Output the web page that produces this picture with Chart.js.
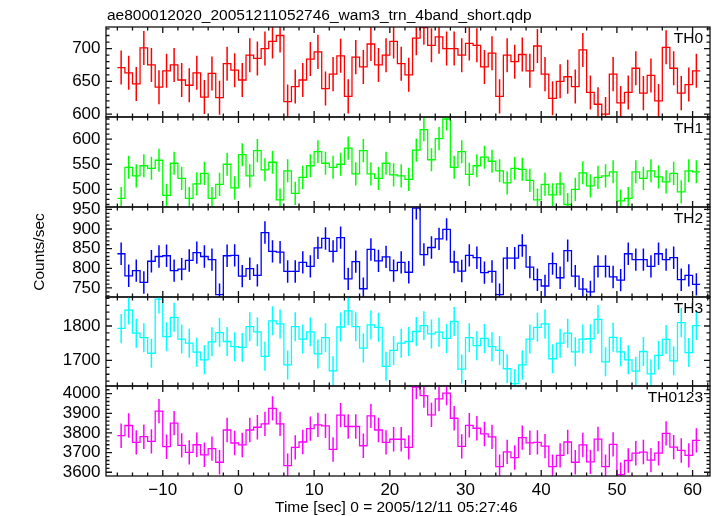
<!DOCTYPE html>
<html>
<head>
<meta charset="utf-8">
<title>wam3 trn 4band light curve</title>
<script src="https://cdn.jsdelivr.net/npm/chart.js@4.4.1/dist/chart.umd.min.js"></script>
<style>
  html, body { margin: 0; padding: 0; background: #fff; }
  #wrap { position: relative; width: 717px; height: 516px; }
  #wrap canvas { position: absolute; left: 0; top: 0; }
</style>
</head>
<body>
<div id="wrap">
  <canvas id="c0" width="717" height="516"></canvas>
  <canvas id="c1" width="717" height="516"></canvas>
  <canvas id="c2" width="717" height="516"></canvas>
  <canvas id="c3" width="717" height="516"></canvas>
  <canvas id="c4" width="717" height="516"></canvas>
</div>
<script>
// ======================================================================
//  Données (1 s bins, t = 0 at 2005/12/11 05:27:46)
// ======================================================================

const binStart = -16;   // left edge of first bin [sec]
const binWidth = 1;     // bin size [sec]

const th0 = [671, 663, 646, 701, 675, 641, 666, 675, 652, 644, 663, 626, 662, 625, 677, 667,
    652, 690, 685, 700, 711, 720, 619, 642, 652, 684, 695, 639, 661, 689, 627, 687,
    672, 707, 675, 690, 711, 677, 660, 716, 732, 705, 718, 700, 700, 690, 708, 705,
    672, 693, 627, 690, 680, 691, 666, 704, 661, 624, 650, 657, 642, 698, 633, 615,
    600, 661, 617, 633, 670, 632, 659, 620, 702, 670, 632, 645, 666];

const th1 = [482, 544, 527, 547, 542, 558, 488, 552, 522, 482, 511, 532, 482, 510, 550, 503,
    569, 527, 577, 539, 554, 479, 537, 492, 524, 547, 575, 552, 544, 550, 582, 531,
    577, 531, 522, 552, 529, 527, 520, 578, 619, 559, 601, 640, 544, 575, 530, 547,
    564, 556, 537, 513, 542, 540, 518, 479, 510, 489, 511, 470, 500, 533, 507, 524,
    527, 535, 477, 482, 535, 522, 537, 525, 515, 532, 495, 537, 535];

const th2 = [837, 781, 794, 764, 818, 830, 832, 794, 798, 820, 840, 830, 822, 733, 832, 833,
    780, 799, 782, 891, 843, 841, 792, 792, 815, 805, 852, 876, 843, 878, 773, 817,
    748, 848, 819, 829, 794, 815, 790, 953, 835, 853, 875, 899, 816, 793, 833, 827,
    789, 792, 733, 826, 826, 858, 803, 771, 755, 812, 776, 845, 780, 747, 740, 805,
    805, 778, 770, 837, 822, 822, 805, 837, 822, 827, 771, 782, 759];

const th3 = [1793, 1846, 1779, 1766, 1721, 1878, 1769, 1825, 1762, 1750, 1724, 1702, 1754, 1781, 1755, 1740,
    1738, 1798, 1783, 1712, 1815, 1806, 1687, 1798, 1762, 1783, 1719, 1766, 1670, 1797, 1844, 1798,
    1736, 1803, 1796, 1683, 1729, 1750, 1755, 1784, 1801, 1777, 1782, 1764, 1813, 1675, 1766, 1743,
    1764, 1740, 1729, 1676, 1633, 1687, 1762, 1796, 1806, 1705, 1750, 1779, 1725, 1762, 1763, 1819,
    1696, 1767, 1725, 1702, 1669, 1726, 1661, 1715, 1761, 1699, 1810, 1723, 1801];

const th0123 = [3786, 3838, 3752, 3781, 3757, 3911, 3730, 3850, 3737, 3701, 3740, 3689, 3720, 3651, 3815, 3749,
    3739, 3815, 3829, 3846, 3925, 3846, 3634, 3727, 3754, 3822, 3841, 3836, 3716, 3891, 3833, 3833,
    3735, 3887, 3815, 3752, 3768, 3768, 3727, 4034, 3990, 3892, 3973, 4003, 3875, 3732, 3839, 3824,
    3795, 3780, 3629, 3704, 3675, 3776, 3750, 3752, 3733, 3629, 3686, 3754, 3651, 3739, 3653, 3769,
    3629, 3742, 3588, 3660, 3697, 3703, 3662, 3697, 3798, 3728, 3711, 3686, 3762];

const errTH0 = 26;
const errTH1 = 23;
const errTH2 = 28.5;
const errTH3 = 42;
const errTH0123 = 62;

const panelNames = ["TH0", "TH1", "TH2", "TH3", "TH0123"];

// ======================================================================
//  Mise en page
// ======================================================================

const W = 717, H = 516;
const plotLeft = 106, plotRight = 710;
const panelTop = [27, 117, 207, 297, 386];
const panelBottom = [117, 207, 297, 386, 476];
const xMin = -17.5, xMax = 62.3;

const FONT = "'Liberation Sans', Arial, Helvetica, sans-serif";
Chart.defaults.font.family = FONT;
Chart.defaults.font.size = 17;
Chart.defaults.color = "#000";

const panels = [
    { values: th0,    err: errTH0,    color: "#ff0000", min: 595.5, max: 733,  step: 50,  minor: 10 },
    { values: th1,    err: errTH1,    color: "#00ff00", min: 465,   max: 644,  step: 50,  minor: 10 },
    { values: th2,    err: errTH2,    color: "#0000ff", min: 727,   max: 956,  step: 50,  minor: 10 },
    { values: th3,    err: errTH3,    color: "#00ffff", min: 1626,  max: 1884, step: 100, minor: 20 },
    { values: th0123, err: errTH0123, color: "#ff00ff", min: 3581,  max: 4039, step: 100, minor: 20 }
];

// ======================================================================
//  Cadre qdp : boîte, graduations intérieures, étiquettes
// ======================================================================

const qdpFrame = {
    id: "qdpFrame",
    afterDatasetsDraw(chart, args, opts) {
        const { ctx, chartArea: a, scales: { x, y } } = chart;
        ctx.save();
        ctx.strokeStyle = "#111";
        ctx.lineWidth = 1.3;
        ctx.strokeRect(a.left, a.top, a.right - a.left, a.bottom - a.top);

        ctx.beginPath();
        for (let t = Math.ceil(x.min / 2) * 2; t <= x.max; t += 2) {
            const px = x.getPixelForValue(t);
            const len = t % 10 === 0 ? 6 : 3.5;
            ctx.moveTo(px, a.top); ctx.lineTo(px, a.top + len);
            ctx.moveTo(px, a.bottom); ctx.lineTo(px, a.bottom - len);
        }
        for (let v = Math.ceil(y.min / opts.minor) * opts.minor; v <= y.max; v += opts.minor) {
            const py = y.getPixelForValue(v);
            const len = v % opts.major === 0 ? 6 : 3.5;
            ctx.moveTo(a.left, py); ctx.lineTo(a.left + len, py);
            ctx.moveTo(a.right, py); ctx.lineTo(a.right - len, py);
        }
        ctx.stroke();

        ctx.fillStyle = "#000";
        ctx.font = "15.5px " + FONT;
        ctx.textAlign = "right";
        ctx.textBaseline = "alphabetic";
        ctx.fillText(opts.label, a.right - 7, a.top + 15.5);

        (opts.texts || []).forEach(t => {
            ctx.textAlign = "left";
            ctx.fillText(t.text, t.x, t.y);
        });
        ctx.restore();
    }
};

const tickText = v => (v < 0 ? "\u2212" + Math.abs(v) : String(v));

// ======================================================================
//  Construction des panneaux
// ======================================================================

function makePanel(i) {
    const p = panels[i];
    const last = i === panels.length - 1;

    // histogramme en escalier : bords gauches + bord final
    const steps = p.values.map((v, k) => ({ x: binStart + k * binWidth, y: v }));
    steps.push({ x: binStart + p.values.length * binWidth, y: p.values[p.values.length - 1] });

    // barres d'erreur verticales au centre des bins
    const bars = [];
    p.values.forEach((v, k) => {
        const c = binStart + (k + 0.5) * binWidth;
        bars.push({ x: c, y: v - p.err }, { x: c, y: v + p.err }, { x: c, y: null });
    });

    const texts = [];
    if (i === 0) texts.push({ text: "ae800012020_20051211052746_wam3_trn_4band_short.qdp", x: 107, y: 20 });
    if (last) texts.push({ text: "Time [sec] 0 = 2005/12/11 05:27:46", x: 275, y: 512 });

    return new Chart(document.getElementById("c" + i), {
        type: "line",
        data: {
            datasets: [
                {
                    data: steps,
                    stepped: true,
                    borderColor: p.color,
                    borderWidth: 1.3,
                    pointRadius: 0,
                    fill: false
                },
                {
                    data: bars,
                    spanGaps: false,
                    borderColor: p.color,
                    borderWidth: 1.5,
                    pointRadius: 0,
                    fill: false
                }
            ]
        },
        options: {
            responsive: false,
            animation: false,
            devicePixelRatio: 1,
            events: [],
            layout: {
                padding: {
                    left: 0,
                    right: W - plotRight,
                    top: panelTop[i],
                    bottom: last ? 0 : H - panelBottom[i]
                }
            },
            plugins: {
                legend: { display: false },
                tooltip: { enabled: false },
                qdpFrame: { label: panelNames[i], minor: p.minor, major: p.step, texts }
            },
            scales: {
                x: {
                    type: "linear",
                    min: xMin,
                    max: xMax,
                    display: last,
                    grid: { display: false, drawTicks: false },
                    border: { display: false },
                    ticks: {
                        stepSize: 10,
                        includeBounds: false,
                        autoSkip: false,
                        maxRotation: 0,
                        padding: 4,
                        callback: tickText
                    },
                    afterFit: s => { if (last) s.height = H - panelBottom[i]; }
                },
                y: {
                    type: "linear",
                    min: p.min,
                    max: p.max,
                    grid: { display: false, drawTicks: false },
                    border: { display: false },
                    ticks: {
                        stepSize: p.step,
                        includeBounds: false,
                        autoSkip: false,
                        padding: 5.5,
                        callback: v => String(v)
                    },
                    title: {
                        display: i === 2,
                        text: "Counts/sec",
                        font: { size: 15.5 },
                        padding: { top: 30.7, bottom: 0 }
                    },
                    afterFit: s => { s.width = plotLeft; }
                }
            }
        },
        plugins: [qdpFrame]
    });
}

panels.forEach((p, i) => makePanel(i));
</script>
</body>
</html>
